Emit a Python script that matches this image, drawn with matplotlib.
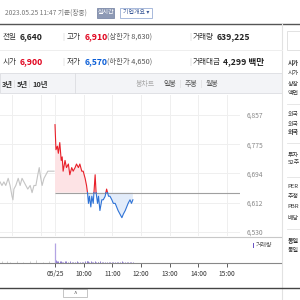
import numpy as np
import matplotlib
matplotlib.use('Agg')
import matplotlib.pyplot as plt
from matplotlib.patches import Rectangle
from matplotlib.lines import Line2D

plt.rcParams['font.family'] = ['Noto Sans CJK KR', 'DejaVu Sans']

# ---------------- data ----------------
prev_close = 6640
quote_labels = ["전일", "고가", "거래량", "시가", "저가", "거래대금"]
quote_values = ["6,640", "6,910", "639,225", "6,900", "6,570", "4,299 백만"]
limit_notes = ["(상한가 8,630)", "(하한가 4,650)"]

# previous session (minutes before today's 09:00 open, compressed)
prev_minutes = [-115, -111, -107, -103, -98, -94, -90, -88, -86, -82, -77, -73, -69, -65,
                -61, -57, -52, -48, -44, -40, -36, -33, -31, -27, -23, -19, -15, -10, -6, -2]
prev_prices = [6670, 6660, 6670, 6660, 6680, 6660, 6630, 6620, 6650, 6660, 6680, 6660, 6680, 6670,
               6660, 6650, 6660, 6640, 6660, 6660, 6690, 6710, 6690, 6660, 6680, 6690, 6700, 6700, 6700, 6700]

# today (minutes since 09:00)
today_minutes = [0, 2, 5, 7, 10, 13, 15, 17, 21, 24, 28, 31, 35, 38, 42, 45, 49, 52, 56, 59,
                 63, 66, 68, 70, 72, 75, 77, 80, 84, 86, 89, 91, 94, 98, 101, 105, 108, 112, 115,
                 119, 122, 126, 129, 132, 136, 140, 143, 147, 150, 153, 157, 160, 163]
today_prices = [6830, 6760, 6770, 6750, 6780, 6730, 6740, 6700, 6730, 6710, 6720, 6690, 6710, 6700,
                6710, 6720, 6710, 6720, 6700, 6700, 6680, 6660, 6640, 6610, 6630, 6600, 6630, 6610,
                6690, 6640, 6610, 6630, 6590, 6620, 6620, 6630, 6650, 6630, 6630, 6620, 6610, 6610,
                6600, 6590, 6580, 6570, 6580, 6590, 6600, 6610, 6620, 6610, 6620]

prev_vol_minutes = [-110, -100, -94, -80, -66, -52, -40, -26, -12]
prev_volumes = [8000, 12000, 6000, 10000, 7000, 9000, 14000, 6000, 10000]
today_volumes = [100000, 14000, 10000, 8000, 12000, 9000, 7000, 6000, 11000, 8000, 6000, 9000, 7000,
                 5000, 6000, 8000, 5000, 6000, 7000, 5000, 9000, 8000, 10000, 12000, 6000, 9000, 5000,
                 6000, 10000, 7000, 6000, 5000, 8000, 5000, 4000, 6000, 5000, 4000, 5000, 6000, 4000,
                 5000, 6000, 7000, 5000, 8000, 5000, 4000, 3000, 4000, 5000, 3000, 4000]

price_ticks = [6530, 6612, 6694, 6775, 6857]
price_tick_labels = ["6,530", "6,612", "6,694", "6,775", "6,857"]
time_ticks = [0, 60, 120, 180, 240, 300, 360]
time_tick_labels = ["05/25", "10:00", "11:00", "12:00", "13:00", "14:00", "15:00"]
prev_grid_minutes = [-90, -30]

period_tabs = ["3년", "5년", "10년"]
candle_tabs = ["봉차트", "일봉", "주봉", "월봉"]
# side panel labels as visible (cut by the page edge)
side_labels = ["시가", "시가", "상장", "액면", "외국", "외국", "외국", "투자", "52주",
               "PER", "추정", "PBR", "배당", "동일", "동일"]

# ---------------- helpers ----------------
W = H = 300
fig = plt.figure(figsize=(3, 3), dpi=100)
fig.patch.set_facecolor('white')


def fx(x):
    return x / W


def fy(y):
    return 1 - y / H


def rect_ax(x0, y0, x1, y1):
    return [fx(x0), fy(y1), (x1 - x0) / W, (y1 - y0) / H]


def text(x, y, s, **kw):
    kw.setdefault('va', 'center')
    kw.setdefault('ha', 'left')
    fig.text(fx(x), fy(y), s, **kw)


def hline(y, x0, x1, color, lw=0.7):
    fig.add_artist(Line2D([fx(x0), fx(x1)], [fy(y), fy(y)], color=color, lw=lw))


def vline(x, y0, y1, color, lw=0.7):
    fig.add_artist(Line2D([fx(x), fx(x)], [fy(y0), fy(y1)], color=color, lw=lw))


def box(x0, y0, x1, y1, fc, ec, lw=0.6):
    fig.add_artist(Rectangle((fx(x0), fy(y1)), (x1 - x0) / W, (y1 - y0) / H,
                             facecolor=fc, edgecolor=ec, lw=lw, transform=fig.transFigure))


# ---------------- header ----------------
text(5, 13, "2023.05.25 11:47 기준(장중)", fontsize=4.8, color='#777777')
box(97, 8, 114, 18, '#8e9ab5', '#7d8aa8')
text(105.5, 13, "실시간", fontsize=4.3, color='white', ha='center')
box(120, 8, 152, 18, 'white', '#9aaed6')
text(123, 13, "기업개요 ▾", fontsize=4.3, color='#3b5998')
hline(24, 0, 300, '#555555', lw=1.0)
vline(282, 24, 300, '#e2e2e2', lw=0.8)

# quote rows
row_y = [37, 62]
col_x = [(3, 20), (67, 85), (193, 217)]
for i, (lab, val) in enumerate(zip(quote_labels, quote_values)):
    r, c = divmod(i, 3)
    lx, vx = col_x[c]
    if lab == "거래대금":
        vx = 223
    text(lx, row_y[r], lab, fontsize=5.5, color='#333333')
    if lab in ("고가", "시가"):
        col = '#e0001b'
    elif lab == "저가":
        col = '#0b5ed7'
    else:
        col = '#222222'
    text(vx, row_y[r], val, fontsize=6.2, color=col, weight='bold')
for r, note in enumerate(limit_notes):
    text(107, row_y[r], note, fontsize=5.3, color='#555555')
for r in range(2):
    text(62, row_y[r], "|", fontsize=5, color='#cccccc')
    text(189, row_y[r], "|", fontsize=5, color='#cccccc')
hline(50, 0, 282, '#eeeeee', lw=0.7)

# tab bar
box(0, 73, 282, 93, '#f3f4f7', '#dcdde1', lw=0.6)
vline(75, 73, 93, '#dcdde1', lw=0.6)
tab_x = [2, 17, 32]
for x, s in zip(tab_x, period_tabs):
    text(x, 84, s, fontsize=5.3, color='#333333', weight='bold')
text(13, 84, "|", fontsize=4.5, color='#cccccc')
text(28, 84, "|", fontsize=4.5, color='#cccccc')
ctab_x = [136, 163, 185, 206]
for x, s in zip(ctab_x, candle_tabs):
    text(x, 84, s, fontsize=5.0, color='#aaaaaa' if s == "봉차트" else '#555555')
text(179, 84, "|", fontsize=4.5, color='#cccccc')
text(200, 84, "|", fontsize=4.5, color='#cccccc')

# ---------------- price chart ----------------
xlim = (-55 * 60 / 28.67, 185 * 60 / 28.67)
ax = fig.add_axes(rect_ax(0, 95, 240, 236))
px_per_won = 117 / 327
ax.set_xlim(*xlim)
ax.set_ylim(6530 - 4 / px_per_won, 6857 + 20 / px_per_won)
for s in ax.spines.values():
    s.set_visible(False)
ax.set_xticks([])
ax.yaxis.tick_right()
ax.set_yticks(price_ticks)
ax.set_yticklabels(price_tick_labels)
ax.tick_params(axis='y', length=0, pad=5, labelsize=4.8, labelcolor='#888888')
for t in price_ticks:
    ax.axhline(t, color='#efefef', lw=0.7, zorder=0)
for t in time_ticks + prev_grid_minutes:
    ax.axvline(t, color='#efefef', lw=0.7, zorder=0)

# previous session grey line
ax.plot(prev_minutes, prev_prices, color='#c4c4c4', lw=0.8, zorder=3)

# today's line split at previous close
tm = np.array(today_minutes, float)
pr = np.array(today_prices, float)
T, P = [tm[0]], [pr[0]]
for i in range(1, len(tm)):
    a, b = pr[i - 1] - prev_close, pr[i] - prev_close
    if a * b < 0:
        tc = tm[i - 1] + (tm[i] - tm[i - 1]) * a / (a - b)
        T.append(tc)
        P.append(prev_close)
    T.append(tm[i])
    P.append(pr[i])
T = np.array(T)
P = np.array(P)
ax.fill_between(T, P, prev_close, where=P >= prev_close, color='#fde3e5', lw=0, zorder=1)
ax.fill_between(T, P, prev_close, where=P <= prev_close, color='#e2ecfa', lw=0, zorder=1)
ax.hlines(prev_close, 0, xlim[1], color='#a0a0a0', lw=0.8, zorder=2)
ax.plot(T, np.where(P >= prev_close, P, np.nan), color='#e8202a', lw=0.8, zorder=4)
ax.plot(T, np.where(P <= prev_close, P, np.nan), color='#2f73d6', lw=0.8, zorder=4)

# panel separator
hline(236.5, 0, 281, '#c8c8c8', lw=0.8)

# ---------------- volume ----------------
axv = fig.add_axes(rect_ax(0, 237, 240, 263))
axv.set_xlim(*xlim)
axv.set_ylim(0, 130000)
for s in axv.spines.values():
    s.set_visible(False)
axv.set_yticks([])
axv.vlines(prev_vol_minutes, 0, prev_volumes, color='#cfcfcf', lw=0.7)
axv.vlines(today_minutes[1:], 0, today_volumes[1:], color='#8e7bd0', lw=0.7)
axv.vlines(today_minutes[:1], 0, today_volumes[:1], color='#b3a4e3', lw=0.9)
axv.set_xticks(time_ticks)
axv.set_xticklabels(time_tick_labels)
axv.tick_params(axis='x', length=3, width=0.6, color='#444444', pad=2,
                labelsize=4.8, labelcolor='#333333')
hline(263, 0, 281, '#888888', lw=0.8)

# legend
box(253, 243, 254.3, 248, '#6a55c4', '#6a55c4', lw=0)
text(255.5, 245.5, "거래량", fontsize=4.3, color='#555555')

# bottom bar
hline(288, 0, 300, '#444444', lw=1.0)
box(63, 289, 87, 297, 'white', '#bbbbbb', lw=0.6)
text(75, 293.5, "^", fontsize=4.5, color='#555555', ha='center')

# ---------------- right side panel ----------------
box(287, 31, 305, 50, 'white', '#dddddd', lw=0.6)
side_y = [62, 73, 85, 93, 115, 124, 132, 155, 163, 187, 197, 207, 218, 240, 251]
bold_rows = {0, 6, 13}
for i, (y, s) in enumerate(zip(side_y, side_labels)):
    text(287.5, y, s, fontsize=4.3, color='#333333',
         weight='bold' if i in bold_rows else 'normal')
for y in [104, 143, 177, 229]:
    hline(y, 287, 300, '#e3e3e3', lw=0.6)

fig.savefig('out.png', dpi=100)
